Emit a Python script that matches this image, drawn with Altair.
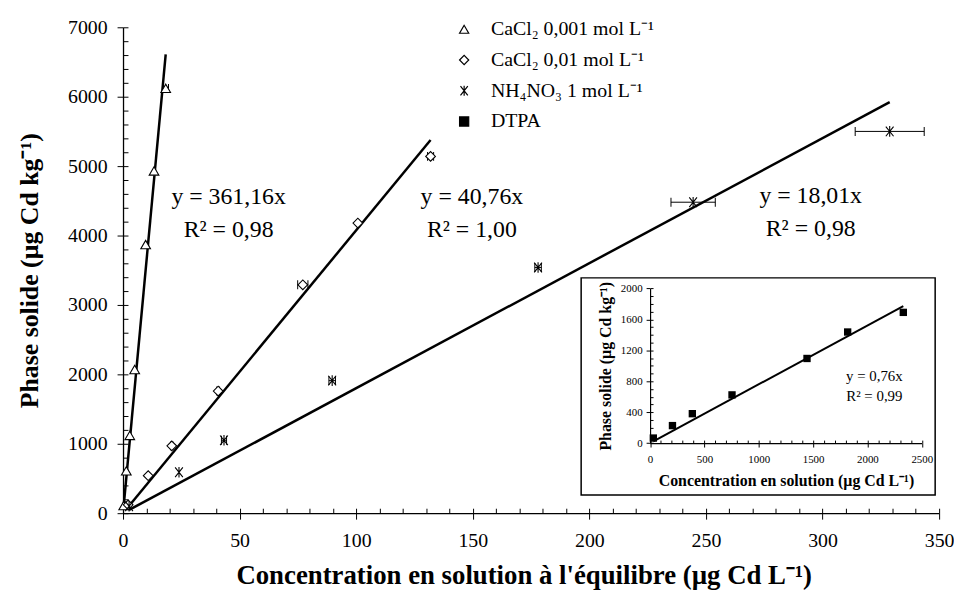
import altair as alt
import pandas as pd

FONT = "Liberation Serif"

# ---------------- data ----------------
series_names = ["CaCl₂ 0,001 mol L⁻¹", "CaCl₂ 0,01 mol L⁻¹", "NH₄NO₃ 1 mol L⁻¹", "DTPA"]

cacl001_x = [0.3, 1.4, 2.9, 5.0, 9.7, 13.3, 18.3]
cacl001_y = [110, 610, 1120, 2070, 3870, 4930, 6120]
cacl001_err = [0, 0, 0, 0, 0, 0, 1.2]

cacl01_x = [2.2, 10.8, 20.9, 40.8, 77.1, 100.7, 131.9]
cacl01_y = [120, 540, 970, 1760, 3290, 4180, 5140]
cacl01_err = [0, 0, 0.5, 0.6, 2.2, 0, 1.3]

nh4no3_x = [2.6, 24.0, 43.3, 89.7, 178.0, 244.5, 328.8]
nh4no3_y = [100, 590, 1050, 1910, 3540, 4480, 5500]
nh4no3_err = [0, 0, 1.1, 1.4, 1.4, 9.5, 14.8]

slopes = [361.16, 40.76, 18.01]
r2_values = [0.98, 1.00, 0.98]

dtpa_x = [30, 206, 389, 754, 1444, 1818, 2330]
dtpa_y = [65, 226, 380, 623, 1094, 1436, 1690]
dtpa_slope = 0.76
dtpa_r2 = 0.99

main_x_ticks = list(range(0, 351, 50))
main_x_minor = list(range(0, 351, 10))
main_y_ticks = list(range(0, 7001, 1000))
main_y_minor = list(range(0, 7001, 200))
inset_x_ticks = list(range(0, 2501, 500))
inset_x_minor = list(range(0, 2501, 100))
inset_y_ticks = list(range(0, 2001, 400))
inset_y_minor = list(range(0, 2001, 100))

# ---------------- tables ----------------
xs_all = [cacl001_x, cacl01_x, nh4no3_x]
ys_all = [cacl001_y, cacl01_y, nh4no3_y]
es_all = [cacl001_err, cacl01_err, nh4no3_err]

rows = []
for name, xs, ys, es in zip(series_names[:3], xs_all, ys_all, es_all):
    for x, y, e in zip(xs, ys, es):
        rows.append(dict(series=name, x=x, y=y, err=e, lo=x - e, hi=x + e))
pts = pd.DataFrame(rows)
bars = pts[pts["err"] > 0]

line_rows = []
for name, xs, s in zip(series_names[:3], xs_all, slopes):
    for x in (min(xs), max(xs)):
        line_rows.append(dict(series=name, x=x, y=s * x))
lines = pd.DataFrame(line_rows)

inset_pts = pd.DataFrame(dict(x=dtpa_x, y=dtpa_y))
inset_line = pd.DataFrame(dict(x=[min(dtpa_x), max(dtpa_x)],
                               y=[dtpa_slope * min(dtpa_x), dtpa_slope * max(dtpa_x)]))


def fmt(v, d=2):
    return f"{v:.{d}f}".replace(".", ",")


# ---------------- main plot ----------------
W, H = 823, 490
xs_main = alt.Scale(domain=[0, 350], nice=False)
ys_main = alt.Scale(domain=[0, 7000], nice=False)

ax_x_major = alt.Axis(values=main_x_ticks, orient="bottom", tickSize=6, tickColor="black",
                      tickWidth=1, domainColor="black", domainWidth=1.3, grid=False, format="d",
                      labelFont=FONT, labelFontSize=20, labelColor="black", labelPadding=12,
                      labelFlush=False, labelOverlap=False,
                      title="Concentration en solution à l'équilibre (µg Cd L⁻¹)",
                      titleFont=FONT, titleFontSize=27, titleFontWeight="bold", titleColor="black",
                      titleX=404, titleY=63, titleBaseline="middle", titleAlign="center")
ax_y_major = alt.Axis(values=main_y_ticks, orient="left", tickSize=6, tickColor="black",
                      tickWidth=1, domainColor="black", domainWidth=1.3, grid=False, format="d",
                      labelFont=FONT, labelFontSize=20, labelColor="black", labelPadding=10,
                      labelFlush=False, labelOverlap=False,
                      title="Phase solide (µg Cd kg⁻¹)",
                      titleFont=FONT, titleFontSize=26, titleFontWeight="bold", titleColor="black",
                      titleX=-94, titleY=245, titleAngle=270, titleAlign="center",
                      titleBaseline="middle")
ax_x_minor = alt.Axis(values=main_x_minor, orient="bottom", offset=-5, tickSize=5,
                      tickColor="black", tickWidth=1, labels=False, domain=False, grid=False)
ax_y_minor = alt.Axis(values=main_y_minor, orient="left", offset=-5, tickSize=5,
                      tickColor="black", tickWidth=1, labels=False, domain=False, grid=False)

asterisk = "M-0.8,-1L0.8,1M-0.8,1L0.8,-1M0,-1.1L0,1.1"
legend = alt.Legend(title=None, orient="none", legendX=334, legendY=-8,
                    labelFont=FONT, labelFontSize=20, labelColor="black", labelLimit=400,
                    symbolSize=85, symbolStrokeWidth=1.2,
                    symbolOpacity=1, rowPadding=11, labelOffset=17, padding=0)

points = alt.Chart(pts).mark_point(filled=False, size=95, strokeWidth=1.1, opacity=1).encode(
    x=alt.X("x:Q", scale=xs_main, axis=ax_x_major),
    y=alt.Y("y:Q", scale=ys_main, axis=ax_y_major),
    shape=alt.Shape("series:N", scale=alt.Scale(domain=series_names,
                    range=["triangle-up", "diamond", asterisk, "square"]), legend=legend),
    fill=alt.Fill("series:N", scale=alt.Scale(domain=series_names,
                  range=["white", "white", "transparent", "black"]), legend=legend),
    stroke=alt.Stroke("series:N", scale=alt.Scale(domain=series_names,
                      range=["black", "black", "black", "black"]), legend=legend),
)

trend = alt.Chart(lines).mark_line(color="black", strokeWidth=2.5).encode(
    x=alt.X("x:Q", scale=xs_main, axis=ax_x_minor, title=None),
    y=alt.Y("y:Q", scale=ys_main, axis=ax_y_minor, title=None),
    detail="series:N",
)

err_rule = alt.Chart(bars).mark_rule(color="black", strokeWidth=1).encode(
    x=alt.X("lo:Q", scale=xs_main, axis=None),
    x2="hi:Q",
    y=alt.Y("y:Q", scale=ys_main, axis=None),
)
err_lo = alt.Chart(bars).mark_tick(color="black", orient="vertical", size=9, thickness=1,
                                   opacity=1).encode(
    x=alt.X("lo:Q", scale=xs_main, axis=None),
    y=alt.Y("y:Q", scale=ys_main, axis=None),
)
err_hi = alt.Chart(bars).mark_tick(color="black", orient="vertical", size=9, thickness=1,
                                   opacity=1).encode(
    x=alt.X("hi:Q", scale=xs_main, axis=None),
    y=alt.Y("y:Q", scale=ys_main, axis=None),
)


def label(text, px, py, size):
    return alt.Chart(pd.DataFrame({"t": [text]})).mark_text(
        font=FONT, fontSize=size, color="black", align="center", baseline="middle"
    ).encode(x=alt.value(px), y=alt.value(py), text="t:N")


ann_pos = [(106.5, 171.7), (351.8, 171.7), (693.5, 170.0)]
annotations = []
for (px, py), s, r in zip(ann_pos, slopes, r2_values):
    annotations.append(label(f"y = {fmt(s)}x", px, py, 24))
    annotations.append(label(f"R² = {fmt(r)}", px, py + 33, 24))

main = alt.layer(trend, err_rule, err_lo, err_hi, points, *annotations).resolve_axis(
    x="independent", y="independent")

# ---------------- inset ----------------
IX0, IX1 = 531.5, 805.5
IY0, IY1 = 419.3, 263.3
xs_in = alt.Scale(domain=[0, 2500], range=[IX0, IX1], nice=False)
ys_in = alt.Scale(domain=[0, 2000], range=[IY0, IY1], nice=False)

ax_ix_major = alt.Axis(values=inset_x_ticks, orient="bottom", offset=-(H - IY0), tickSize=4,
                       tickColor="black", domainColor="black", domainWidth=1.2, grid=False,
                       format="d",
                       labelFont=FONT, labelFontSize=11, labelColor="black", labelPadding=7,
                       labelFlush=False, labelOverlap=False, zindex=2,
                       title="Concentration en solution (µg Cd L⁻¹)", titleFont=FONT,
                       titleFontSize=16, titleFontWeight="bold", titleColor="black",
                       titlePadding=8)
ax_iy_major = alt.Axis(values=inset_y_ticks, orient="left", offset=-IX0, tickSize=4,
                       tickColor="black", domainColor="black", domainWidth=1.2, grid=False,
                       format="d",
                       labelFont=FONT, labelFontSize=11, labelColor="black", labelPadding=4,
                       labelFlush=False, labelOverlap=False, zindex=2,
                       title="Phase solide (µg Cd kg⁻¹)", titleFont=FONT,
                       titleFontSize=16, titleFontWeight="bold", titleColor="black",
                       titlePadding=7)
ax_ix_minor = alt.Axis(values=inset_x_minor, orient="bottom", offset=-(H - IY0) - 3, tickSize=3,
                       tickColor="black", labels=False, domain=False, grid=False, zindex=2)
ax_iy_minor = alt.Axis(values=inset_y_minor, orient="left", offset=-IX0 - 3, tickSize=3,
                       tickColor="black", labels=False, domain=False, grid=False, zindex=2)

box = alt.Chart(pd.DataFrame({"a": [0]})).mark_rect(
    fill="white", stroke="black", strokeWidth=1.5
).encode(x=alt.value(462), x2=alt.value(819), y=alt.value(252.7), y2=alt.value(471.7))

in_line = alt.Chart(inset_line).mark_line(color="black", strokeWidth=2).encode(
    x=alt.X("x:Q", scale=xs_in, axis=ax_ix_minor, title=None),
    y=alt.Y("y:Q", scale=ys_in, axis=ax_iy_minor, title=None),
)
in_pts = alt.Chart(inset_pts).mark_square(size=55, color="black", opacity=1).encode(
    x=alt.X("x:Q", scale=xs_in, axis=ax_ix_major),
    y=alt.Y("y:Q", scale=ys_in, axis=ax_iy_major),
)
in_t1 = label(f"y = {fmt(dtpa_slope)}x", 757.7, 351.7, 15)
in_t2 = label(f"R² = {fmt(dtpa_r2)}", 757.7, 371.7, 15)

inset = alt.layer(box, in_line, in_pts, in_t1, in_t2).resolve_axis(
    x="independent", y="independent")

chart = alt.layer(main, inset).resolve_scale(
    x="independent", y="independent"
).properties(
    width=W, height=H,
    autosize=alt.AutoSizeParams(type="none"),
    padding={"left": 116, "top": 17, "right": 15, "bottom": 75},
    background="white",
).configure_view(stroke=None)

chart.save("out.html", embed_options={"renderer": "svg", "actions": False})
